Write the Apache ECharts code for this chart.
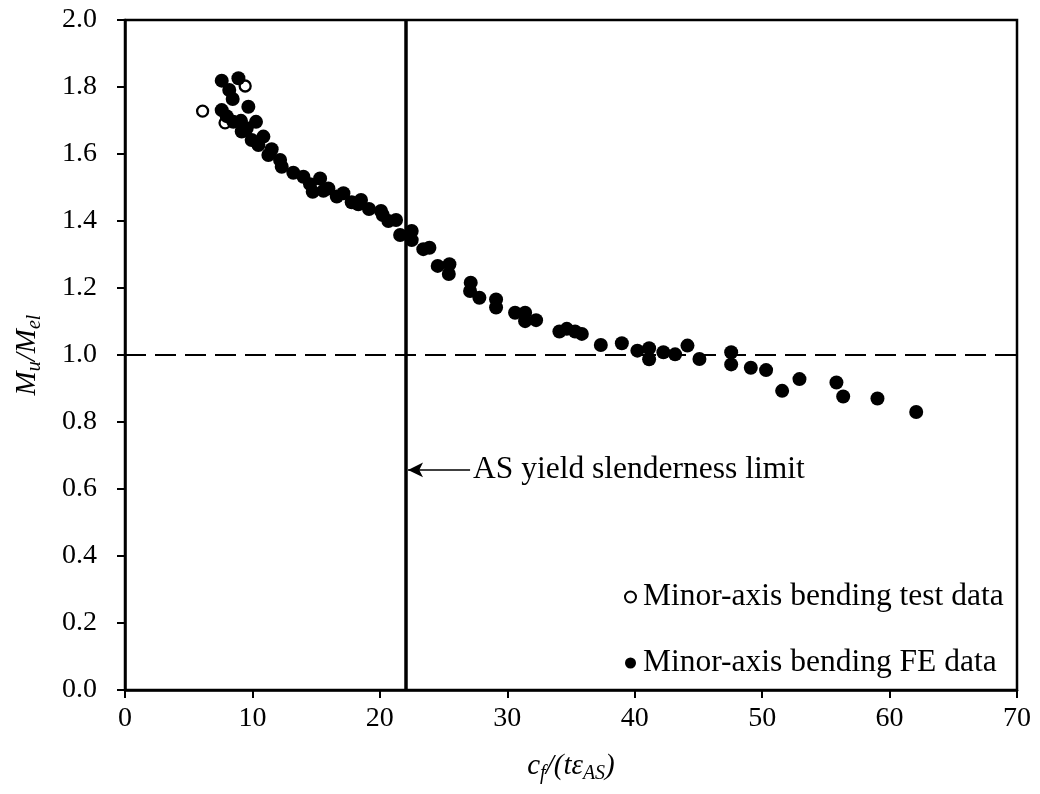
<!DOCTYPE html>
<html>
<head>
<meta charset="utf-8">
<script src="https://cdn.jsdelivr.net/npm/echarts@6/dist/echarts.min.js"></script>
<style>
  html, body { margin: 0; padding: 0; background: #fff; }
  #chart { width: 1040px; height: 794px; }
</style>
</head>
<body>
<div id="chart"></div>
<script>
const testX = [9.43, 6.09, 7.85];
const testY = [1.803, 1.728, 1.693];

const feX = [7.59, 8.90, 8.18, 8.45, 9.68, 7.59, 7.98, 8.50, 9.10, 10.28,
  9.55, 9.16, 10.86, 9.94, 10.47, 11.51, 11.25, 12.17, 12.30, 13.21,
  14.00, 15.31, 14.52, 14.73, 15.57, 15.96, 16.62, 17.14, 17.79, 18.52,
  18.31, 19.15, 20.09, 20.23, 20.67, 21.27, 21.59, 22.50, 22.50, 23.41,
  23.89, 24.54, 25.46, 25.41, 27.13, 27.08, 27.81, 29.12, 29.12, 30.61,
  31.40, 31.40, 32.26, 34.09, 34.67, 35.32, 35.85, 37.34, 38.99, 40.21,
  41.13, 41.13, 42.25, 43.17, 44.14, 45.08, 47.57, 47.57, 49.11, 50.31,
  51.57, 52.93, 55.83, 56.36, 59.05, 62.09];
const feY = [1.819, 1.826, 1.791, 1.764, 1.741, 1.731, 1.713, 1.696, 1.699, 1.696,
  1.677, 1.667, 1.652, 1.642, 1.627, 1.614, 1.597, 1.582, 1.562, 1.544,
  1.532, 1.527, 1.510, 1.487, 1.490, 1.497, 1.473, 1.483, 1.456, 1.463,
  1.450, 1.436, 1.430, 1.418, 1.400, 1.403, 1.358, 1.370, 1.343, 1.316,
  1.320, 1.266, 1.271, 1.242, 1.216, 1.191, 1.171, 1.166, 1.142, 1.126,
  1.126, 1.101, 1.104, 1.070, 1.078, 1.070, 1.063, 1.030, 1.035, 1.013,
  1.020, 0.987, 1.008, 1.002, 1.028, 0.988, 1.008, 0.972, 0.962, 0.955,
  0.893, 0.928, 0.918, 0.876, 0.870, 0.830];

const yieldLimit = 22;
const unityLine = 1.0;
const arrowY = 0.657;
const arrowFromX = 27.08;
const arrowToX = 22.21;
const annotation = 'AS yield slenderness limit';
const seriesNames = ['Minor-axis bending test data', 'Minor-axis bending FE data'];

const FONT = '"Liberation Serif", "Times New Roman", serif';

const pairs = (xs, ys) => xs.map((x, i) => [x, ys[i]]);

// italic name with lowered subscripts
const nameRich = {
  i: { fontFamily: FONT, fontStyle: 'italic', fontSize: 29, color: '#000', lineHeight: 36, verticalAlign: 'middle' },
  s: { fontFamily: FONT, fontStyle: 'italic', fontSize: 20, color: '#000', lineHeight: 18, verticalAlign: 'bottom' }
};

const chart = echarts.init(document.getElementById('chart'), null, { renderer: 'canvas' });

chart.setOption({
  animation: false,
  textStyle: { fontFamily: FONT, color: '#000' },
  grid: {
    left: 125, right: 23, top: 20, bottom: 104,
    show: true, borderColor: '#000', borderWidth: 2.5
  },
  legend: {
    data: seriesNames,
    orient: 'vertical',
    left: 619,
    top: 576,
    itemGap: 34,
    itemWidth: 11,
    itemHeight: 11,
    textStyle: { fontFamily: FONT, fontSize: 31.5, color: '#000', padding: [0, 0, 0, 2] }
  },
  xAxis: {
    type: 'value',
    min: 0, max: 70, interval: 10,
    name: '{i|c}{s|f}{i|/(tε}{s|AS}{i|)}',
    nameLocation: 'middle',
    nameGap: 58,
    nameTextStyle: { rich: nameRich },
    axisLine: { lineStyle: { color: '#000', width: 2.5 } },
    axisTick: { show: true, length: 8, lineStyle: { color: '#000', width: 2 } },
    axisLabel: { fontFamily: FONT, fontSize: 28, color: '#000', margin: 15 },
    splitLine: { show: false }
  },
  yAxis: {
    type: 'value',
    min: 0, max: 2, interval: 0.2,
    name: '{i|M}{s|u}{i|/M}{s|el}',
    nameLocation: 'middle',
    nameGap: 80,
    nameTextStyle: { rich: nameRich },
    axisLine: { lineStyle: { color: '#000', width: 2.5 } },
    axisTick: { show: true, length: 8, lineStyle: { color: '#000', width: 2 } },
    axisLabel: {
      fontFamily: FONT, fontSize: 28, color: '#000', margin: 28,
      formatter: v => v.toFixed(1)
    },
    splitLine: { show: false }
  },
  series: [
    {
      name: seriesNames[0],
      type: 'scatter',
      symbol: 'circle',
      symbolSize: 11,
      itemStyle: { color: '#fff', borderColor: '#000', borderWidth: 2.3, opacity: 1 },
      data: pairs(testX, testY),
      z: 2
    },
    {
      name: seriesNames[1],
      type: 'scatter',
      symbol: 'circle',
      symbolSize: 14,
      itemStyle: { color: '#000', opacity: 1 },
      data: pairs(feX, feY),
      z: 3,
      markLine: {
        silent: true,
        symbol: 'none',
        label: { show: false },
        data: [
          { xAxis: yieldLimit, lineStyle: { color: '#000', width: 3.5, type: 'solid', opacity: 1 } },
          { yAxis: unityLine, lineStyle: { color: '#000', width: 2, type: [21, 9], opacity: 1 } },
          [
            { coord: [arrowFromX, arrowY], symbol: 'none', lineStyle: { color: '#000', width: 1.5, type: 'solid', opacity: 1 } },
            { coord: [arrowToX, arrowY], symbol: 'arrow', symbolSize: [11, 15] }
          ]
        ]
      }
    },
    {
      name: 'annotation',
      type: 'scatter',
      symbolSize: 0,
      silent: true,
      itemStyle: { opacity: 1 },
      data: [[arrowFromX, arrowY]],
      label: {
        show: true,
        position: 'right',
        distance: 3,
        formatter: annotation,
        fontFamily: FONT,
        fontSize: 31.5,
        color: '#000'
      }
    }
  ]
});
</script>
</body>
</html>
